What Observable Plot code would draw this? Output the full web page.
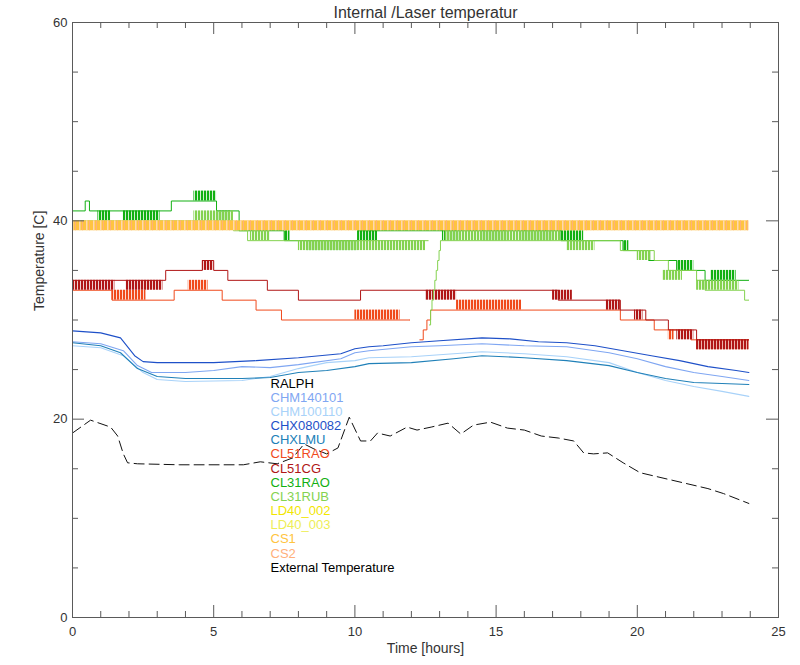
<!DOCTYPE html>
<html><head><meta charset="utf-8">
<script src="https://cdn.jsdelivr.net/npm/d3@7"></script>
<script src="https://cdn.jsdelivr.net/npm/@observablehq/plot@0.6"></script>
<style>
body{margin:0;background:#fff;}
#chart{position:relative;width:800px;height:665px;}
</style></head><body><div id="chart"></div>
<script>
// ---------- legend / series ----------
const seriesNames = ["RALPH","CHM140101","CHM100110","CHX080082","CHXLMU","CL51RAO","CL51CG","CL31RAO","CL31RUB","LD40_002","LD40_003","CS1","CS2","External Temperature"];
const seriesColors = ["#000000","#7fa6f2","#a8d2f9","#1e50c8","#2080b8","#f04a1c","#b01616","#12b012","#84d250","#f2e600","#eeee55","#ffc440","#ffb07a","#000000"];
const colorOf = Object.fromEntries(seriesNames.map((n,i)=>[n,seriesColors[i]]));

// ---------- axis ticks ----------
const xMajorTicks = [0,5,10,15,20,25];
const xMinorTicks = [1,2,3,4,6,7,8,9,11,12,13,14,16,17,18,19,21,22,23,24];
const yMajorTicks = [0,20,40,60];
const yMinorTicks = [5,10,15,25,30,35,45,50,55];

// ---------- ceilometer internal temperatures [hour, °C] ----------
const CHX080082 = [[0,28.9],[1,28.7],[1.7,28.2],[2.2,26.4],[2.5,25.8],[3,25.7],[5,25.7],[6.5,25.9],[8,26.2],[9.5,26.6],[10,27.1],[10.5,27.3],[11,27.4],[12,27.7],[13,27.9],[14.5,28.2],[15.5,28.1],[16.5,27.8],[17.5,27.7],[18.5,27.4],[19.5,26.9],[20.5,26.4],[21.5,25.9],[22.5,25.3],[23.5,24.9],[23.95,24.7]];
const CHM140101 = [[0,27.8],[1,27.6],[1.8,26.9],[2.3,25.4],[2.8,24.7],[4,24.7],[5,24.9],[6,25.3],[7,25.2],[8,25.5],[9.5,26.1],[10,26.7],[10.5,26.9],[12,27.3],[13,27.4],[14.5,27.6],[16,27.4],[17.5,27.3],[19,26.7],[20,26.1],[21,25.3],[22,24.7],[23,24.3],[23.95,23.9]];
const CHXLMU = [[0,27.7],[1,27.4],[1.7,26.7],[2.3,25.1],[3,24.3],[4,24.1],[6,24.1],[7,24.2],[8,24.7],[9,24.9],[10,25.3],[10.5,25.6],[12,25.7],[13.5,26.1],[14.5,26.4],[16,26.2],[17.5,25.9],[19,25.4],[20,24.7],[21,24.1],[22,23.7],[23,23.6],[23.95,23.5]];
const CHM100110 = [[0,27.4],[1,27.2],[1.8,26.4],[2.5,24.7],[3,24.0],[4,23.8],[6,23.9],[7,24.3],[8,25.1],[9,25.7],[10,25.9],[10.5,26.2],[12,26.3],[13.5,26.6],[14.5,26.8],[16,26.6],[17.5,26.3],[19,25.7],[20,24.7],[21,23.9],[22,23.3],[23,22.8],[23.95,22.3]];

// ---------- laser temperatures: level steps [hour, °C] and flicker bands [h0, h1, low, high] ----------
const CL51CG_steps = [[0,34],[3.3,35],[4.6,36],[5.0,35],[5.5,34],[6.9,33],[8.0,32],[10.2,33],[17.2,32],[19.4,31],[20.3,30],[21.1,29],[22.1,28],[23.95,28]];
const CL51CG_bands = [[0,1.5,33,34],[1.9,3.2,33,34],[4.6,5.0,35,36],[12.5,13.6,32,33],[17.0,17.7,32,33],[18.9,19.4,31,32],[19.9,20.2,30,31],[21.4,22.0,28,29],[22.1,23.95,27,28]];
const CL51RAO_steps = [[0,33],[1.4,32],[3.6,33],[5.3,32],[6.5,31],[7.4,30],[11.95,30],[12.0,NaN],[12.3,28],[12.42,29],[12.55,30],[12.68,31],[19.4,30],[20.6,29],[21.9,28],[23.95,28]];
const CL51RAO_bands = [[1.4,2.6,32,33],[4.1,4.8,33,34],[10.0,11.6,30,31],[13.6,15.9,31,32],[21.1,21.3,28,29],[22.1,23.95,27,28]];
const CL31RAO_steps = [[0,41],[0.45,42],[0.6,41],[3.5,42],[5.1,41],[5.9,39],[7.5,38],[10.1,39],[17.3,38],[19.5,37],[20.4,36],[21.4,35],[22.4,34],[23.95,34]];
const CL31RAO_bands = [[0.9,1.35,40,41],[1.8,3.1,40,41],[4.3,5.1,42,43],[5.1,5.6,40,41],[7.5,7.7,38,39],[8.3,10.1,37,38],[10.1,10.8,38,39],[13.1,13.7,38,39],[14.5,15.4,38,39],[15.9,17.0,38,39],[17.3,18.1,38,39],[19.5,19.7,37,38],[20.4,20.5,36,37],[21.4,22.0,35,36],[22.6,23.5,34,35]];
const CL31RUB_steps = [[0,40],[5.7,39],[6.2,38],[12.6,38],[12.61,NaN],[12.64,29.5],[12.68,31],[12.73,32],[12.78,33],[12.83,34],[12.88,35],[12.93,36],[12.98,37],[13.03,38],[19.4,37],[20.6,36],[21.1,35],[22.1,34],[22.4,33],[23.8,32],[23.95,32]];
const CL31RUB_bands = [[4.3,5.7,40,41],[6.3,7.0,38,39],[8.0,12.5,37,38],[13.2,17.3,38,39],[17.5,18.5,37,38],[20.0,20.5,36,37],[20.9,21.6,34,35],[22.1,23.6,33,34]];
const CS1_bands = [[0,23.95,39,40]];
const CS2_bands = [[0,23.95,39,40]];

// ---------- external temperature [hour, °C] ----------
const External = [[0,18.6],[0.64,19.9],[1.35,19.2],[1.6,18.3],[1.8,16.5],[1.95,15.6],[2.3,15.5],[3.8,15.4],[6.05,15.4],[6.65,15.7],[7.25,15.5],[7.8,16.1],[8.2,17.5],[8.55,17.0],[9.0,16.5],[9.4,17.1],[9.8,20.2],[10.2,17.8],[10.55,17.8],[10.8,18.6],[11.25,18.3],[11.85,19.2],[12.2,18.9],[12.7,19.2],[13.3,19.6],[13.75,18.5],[14.2,19.4],[14.8,19.7],[15.4,19.1],[16.0,18.9],[16.6,18.3],[17.2,18.1],[17.75,17.8],[18.1,16.6],[18.45,16.5],[18.95,16.6],[19.5,15.6],[20.1,14.6],[21.3,13.8],[22.5,13.0],[23.05,12.5],[23.95,11.5]];

// ---------- marks ----------
const plotW = 800 - 72 - 22, plotH = 665 - 22 - 48;
const P = d => d[0], T = d => d[1];
const smooth = (data, name) => Plot.line(data, {x:P, y:T, stroke:colorOf[name], strokeWidth:1.1});
const steps = (data, name) => Plot.line(data, {x:P, y:T, curve:"step-after", stroke:colorOf[name], strokeWidth:1});
const hatchId = name => "hatch-" + name;
const bands = (data, name) => Plot.rect(data, {x1:d=>d[0], x2:d=>d[1], y1:d=>d[2], y2:d=>d[3], fill:`url(#${hatchId(name)})`});

const tickStroke = "#5a5a5a";
const marks = [
  smooth(CHM140101,"CHM140101"),
  smooth(CHM100110,"CHM100110"),
  smooth(CHX080082,"CHX080082"),
  smooth(CHXLMU,"CHXLMU"),
  bands(CL51RAO_bands,"CL51RAO"), steps(CL51RAO_steps,"CL51RAO"),
  bands(CL51CG_bands,"CL51CG"), steps(CL51CG_steps,"CL51CG"),
  bands(CL31RAO_bands,"CL31RAO"), steps(CL31RAO_steps,"CL31RAO"),
  bands(CL31RUB_bands,"CL31RUB"), steps(CL31RUB_steps,"CL31RUB"),
  Plot.rect(CS1_bands, {x1:d=>d[0], x2:d=>d[1], y1:d=>d[2], y2:d=>d[3], fill:colorOf.CS1}),
  bands(CS2_bands,"CS2"),
  Plot.line(External, {x:P, y:T, stroke:"#111", strokeWidth:1, strokeDasharray:"10,5"}),
  Plot.frame({stroke:tickStroke}),
  Plot.ruleX(xMajorTicks, {x:d=>d, insetTop:plotH-12, stroke:tickStroke}),
  Plot.ruleX(xMajorTicks, {x:d=>d, insetBottom:plotH-12, stroke:tickStroke}),
  Plot.ruleX(xMinorTicks, {x:d=>d, insetTop:plotH-6, stroke:tickStroke}),
  Plot.ruleX(xMinorTicks, {x:d=>d, insetBottom:plotH-6, stroke:tickStroke}),
  Plot.ruleY(yMajorTicks, {y:d=>d, insetRight:plotW-12, stroke:tickStroke}),
  Plot.ruleY(yMajorTicks, {y:d=>d, insetLeft:plotW-12, stroke:tickStroke}),
  Plot.ruleY(yMinorTicks, {y:d=>d, insetRight:plotW-6, stroke:tickStroke}),
  Plot.ruleY(yMinorTicks, {y:d=>d, insetLeft:plotW-6, stroke:tickStroke}),
  Plot.axisX({ticks:xMajorTicks, tickSize:0, tickPadding:9, fontSize:13, label:null}),
  Plot.axisY({ticks:yMajorTicks, tickSize:0, tickPadding:5, fontSize:13, label:null}),
  Plot.text(["Internal /Laser temperatur"], {frameAnchor:"top", dy:-10, lineAnchor:"middle", fontSize:16, fill:"#333", letterSpacing:"0.8px"}),
  Plot.text(["Time [hours]"], {frameAnchor:"bottom", dy:31, lineAnchor:"middle", fontSize:14, fill:"#333"}),
  Plot.text(["Temperature [C]"], {frameAnchor:"left", dx:-33, dy:-9, rotate:-90, fontSize:14, fill:"#333", letterSpacing:"0.5px"}),
  ...seriesNames.map((n,i) => Plot.text([n], {frameAnchor:"top-left", dx:198, dy:356 + i*14.15, textAnchor:"start", fontSize:13, fill:seriesColors[i]}))
];

const chart = Plot.plot({
  width:800, height:665,
  marginTop:22, marginRight:22, marginBottom:48, marginLeft:72,
  x:{domain:[0,25]}, y:{domain:[0,60]},
  style:{fontFamily:"'Liberation Sans', Arial, sans-serif", fontSize:"13px", color:"#333", background:"transparent", overflow:"visible"},
  marks
});

// hatch patterns imitating the dense vertical flicker strokes
const defs = d3.select(chart).insert("defs", ":first-child");
["CL51RAO","CL51CG","CL31RAO","CL31RUB"].forEach(n => {
  const p = defs.append("pattern").attr("id", hatchId(n)).attr("patternUnits","userSpaceOnUse").attr("width",3).attr("height",10);
  p.append("rect").attr("width",3).attr("height",10).attr("fill",colorOf[n]).attr("fill-opacity",0.2);
  p.append("rect").attr("width",2).attr("height",10).attr("fill",colorOf[n]);
});
{
  const p = defs.append("pattern").attr("id", hatchId("CS2")).attr("patternUnits","userSpaceOnUse").attr("width",7).attr("height",10);
  p.append("rect").attr("x",2).attr("width",1.5).attr("height",10).attr("fill","#ffd7b0");
  p.append("rect").attr("x",5).attr("width",1).attr("height",10).attr("fill",colorOf.CS2);
}
document.getElementById("chart").appendChild(chart);
</script>
</body></html>
